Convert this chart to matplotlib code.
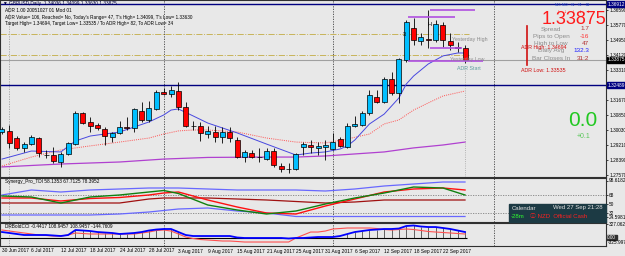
import matplotlib
matplotlib.use("Agg")
import matplotlib.pyplot as plt
import matplotlib.transforms as mtransforms
from matplotlib.patches import Rectangle
from matplotlib import font_manager

plt.rcParams['font.family'] = ['Liberation Sans', 'DejaVu Sans', 'Noto Sans CJK JP']
names = {f.name for f in font_manager.fontManager.ttflist}
NARROW = 'Liberation Sans Narrow' if 'Liberation Sans Narrow' in names else 'Liberation Sans'

# GBPUSD daily candles, 30 Jun 2017 .. 27 Sep 2017 (bar index 0..63)
opens = [1.2992, 1.2997, 1.2959, 1.2905, 1.2927, 1.2959, 1.2866, 1.2866, 1.2828, 1.2872,
         1.2927, 1.3096, 1.3047, 1.3030, 1.3008, 1.2965, 1.2987, 1.3019, 1.3014, 1.3107,
         1.3058, 1.3118, 1.3211, 1.3200, 1.3216, 1.3129, 1.3025, 1.3025, 1.2981, 1.2992,
         1.2965, 1.2992, 1.2948, 1.2855, 1.2877, 1.2855, 1.2844, 1.2888, 1.2806, 1.2790,
         1.2790, 1.2910, 1.2921, 1.2905, 1.2910, 1.2899, 1.2954, 1.2910, 1.3025, 1.3030,
         1.3096, 1.3183, 1.3156, 1.3282, 1.3205, 1.3386, 1.3561, 1.3490, 1.3500, 1.3495,
         1.3577, 1.3490, 1.3457, 1.3451]
highs = [1.3019, 1.3030, 1.2970, 1.2937, 1.2976, 1.2965, 1.2894, 1.2910, 1.2883, 1.2937,
         1.3107, 1.3101, 1.3074, 1.3041, 1.3019, 1.2992, 1.3052, 1.3074, 1.3123, 1.3156,
         1.3162, 1.3222, 1.3233, 1.3244, 1.3265, 1.3156, 1.3052, 1.3047, 1.3025, 1.3025,
         1.3019, 1.3019, 1.2965, 1.2894, 1.2894, 1.2904, 1.2904, 1.2904, 1.2823, 1.2823,
         1.2877, 1.2937, 1.2948, 1.2937, 1.2948, 1.2987, 1.2965, 1.3041, 1.3079, 1.3107,
         1.3222, 1.3222, 1.3293, 1.3320, 1.3397, 1.3604, 1.3615, 1.3533, 1.3659, 1.3604,
         1.3593, 1.3533, 1.3484, 1.3468]
lows = [1.2981, 1.2905, 1.2894, 1.2883, 1.2921, 1.2855, 1.2850, 1.2823, 1.2801, 1.2866,
        1.2921, 1.3036, 1.2991, 1.3003, 1.2921, 1.2937, 1.2981, 1.3003, 1.2992, 1.3047,
        1.3047, 1.3112, 1.3194, 1.3183, 1.3112, 1.3019, 1.3003, 1.2943, 1.2959, 1.2937,
        1.2932, 1.2937, 1.2850, 1.2828, 1.2850, 1.2828, 1.2839, 1.2801, 1.2773, 1.2768,
        1.2784, 1.2866, 1.2877, 1.2866, 1.2839, 1.2894, 1.2910, 1.2905, 1.3019, 1.3025,
        1.3085, 1.3151, 1.3151, 1.3194, 1.3151, 1.3375, 1.3468, 1.3468, 1.3451, 1.3484,
        1.3457, 1.3440, 1.3429, 1.3369]
closes = [1.3008, 1.2932, 1.2905, 1.2927, 1.2965, 1.2877, 1.2869, 1.2833, 1.2872, 1.2932,
          1.3096, 1.3041, 1.3025, 1.3014, 1.2970, 1.2987, 1.3019, 1.3016, 1.3118, 1.3058,
          1.3123, 1.3211, 1.3200, 1.3222, 1.3129, 1.3025, 1.3027, 1.2985, 1.2998, 1.2965,
          1.2992, 1.2959, 1.2855, 1.2883, 1.2855, 1.2857, 1.2888, 1.2812, 1.2790, 1.2792,
          1.2872, 1.2927, 1.2910, 1.2916, 1.2921, 1.2937, 1.2915, 1.3025, 1.3036, 1.3096,
          1.3194, 1.3156, 1.3282, 1.3205, 1.3391, 1.3593, 1.3495, 1.3511, 1.3497, 1.3582,
          1.3495, 1.3468, 1.3454, 1.33875]

date_idx = [0, 4, 8, 12, 16, 20, 24, 28, 32, 36, 40, 44, 48, 52, 56, 60]
date_labels = ["30 Jun 2017", "6 Jul 2017", "12 Jul 2017", "18 Jul 2017", "24 Jul 2017",
               "28 Jul 2017", "3 Aug 2017", "9 Aug 2017", "15 Aug 2017", "21 Aug 2017",
               "25 Aug 2017", "31 Aug 2017", "6 Sep 2017", "12 Sep 2017", "18 Sep 2017",
               "22 Sep 2017"]
month_starts = [1, 22, 45, 67]

# moving averages
ma_fast_idx = [0, 4, 8, 10, 12, 16, 20, 22, 23, 24, 26, 28, 32, 36, 40, 42, 44, 46, 47, 48,
               50, 52, 54, 55, 56, 58, 60, 62, 63]
ma_fast = [1.2844, 1.2888, 1.2883, 1.2943, 1.2970, 1.2992, 1.3047, 1.3085, 1.3112, 1.3118,
           1.3080, 1.3041, 1.2987, 1.2926, 1.2866, 1.2877, 1.2883, 1.2899, 1.2916, 1.2948,
           1.3036, 1.3090, 1.3178, 1.3254, 1.3298, 1.3364, 1.3408, 1.3424, 1.3424]
ma_mid_idx = [0, 4, 8, 12, 16, 20, 22, 24, 26, 28, 32, 36, 40, 44, 47, 50, 52, 54, 56, 58, 60, 63]
ma_mid = [1.2806, 1.2855, 1.2894, 1.2916, 1.2937, 1.2959, 1.2981, 1.2998, 1.3003, 1.3003,
          1.2992, 1.2959, 1.2937, 1.2932, 1.2954, 1.2981, 1.3036, 1.3058, 1.3112, 1.3151,
          1.3189, 1.3216]
ma_slow_idx = [0, 8, 16, 22, 28, 36, 40, 44, 48, 52, 56, 60, 63]
ma_slow = [1.2801, 1.2817, 1.2828, 1.2844, 1.2853, 1.2855, 1.2855, 1.2861, 1.2872, 1.2883,
           1.2905, 1.2921, 1.2937]

price_ticks = [1.36590, 1.35770, 1.34950, 1.34120, 1.33310, 1.31670, 1.30850, 1.30030,
               1.29210, 1.28390, 1.27570]

# Synergy_Pro_TDI
tdi_idx = [0, 4, 8, 12, 16, 20, 22, 24, 28, 32, 36, 40, 44, 48, 52, 56, 60, 63]
tdi_upper = [68, 78, 74, 78, 80, 82, 82, 82, 80, 78, 78, 78, 76, 80, 86, 90, 94, 94]
tdi_lower = [28, 28, 28, 28, 30, 34, 37, 40, 42, 36, 32, 25, 25, 25, 25, 25, 25, 25]
tdi_green = [66, 64, 52, 64, 68, 74, 77, 71, 48, 38, 30, 36, 50, 62, 72, 84, 82, 68]
tdi_red = [62, 62, 56, 61, 63, 68, 72, 74, 58, 44, 32, 30, 46, 60, 74, 80, 82, 78]
tdi_base = [52, 52, 52, 52, 52, 60, 62, 62, 62, 60, 58, 55, 52, 54, 58, 58, 58, 58]

# DRBoldCCI
cci_blue = [125, 103, 80, 57, 57, 57, 57, 46, 34, 57, 171, 160, 148, 125, 114, 103, 80, 91, 103, 125,
            160, 182, 194, 194, 125, 57, 34, 34, 34, 34, 34, 34, 0, -11, -11, -11, -11, -11, -11, -23,
            -11, -11, 0, 11, 11, 11, 34, 80, 125, 148, 171, 182, 194, 194, 205, 262, 274, 251, 239, 239,
            217, 194, 160, 125]
cci_red = [171, 148, 125, 103, 80, 57, 46, 34, 34, 57, 103, 91, 80, 80, 80, 80, 80, 80, 80, 103,
           125, 160, 171, 148, 80, 11, -23, -46, -57, -68, -80, -80, -91, -103, -103, -103, -103, -103, -103, -103,
           -11, 57, 125, 125, 148, 194, 205, 217, 217, 217, 217, 205, 182, 171, 182, 194, 182, 160, 137, 125,
           114, 103, 91, 80]
cci_hist = [0, 0, 0, 0, 0, 0, 0, 0, 0, 0, 171, 160, 148, 125, 114, 103, 80, 91, 103, 125,
            160, 182, 194, 194, 125, 0, 0, 0, 0, 0, 0, 0, 0, 0, 0, 0, 0, 0, 0, 0,
            0, 0, 0, 0, 0, 0, 0, 80, 125, 148, 171, 182, 194, 194, 205, 262, 274, 251, 239, 239,
            217, 194, 160, 125]

BG = '#e8e8e8'
W, H = 625, 256
fig = plt.figure(figsize=(W / 100, H / 100), dpi=100, facecolor=BG)


def panel(top, bottom):
    a = fig.add_axes([0, 1 - bottom / H, 606 / W, (bottom - top) / H], facecolor=BG)
    a.set_xlim(-0.27, 82.18)
    a.yaxis.tick_right()
    a.tick_params(axis='y', labelsize=3.4, length=1.5, pad=0.8, width=0.5)
    a.set_xticks([])
    for s in a.spines.values():
        s.set_color('#303030')
        s.set_linewidth(0.8)
    for m in month_starts:
        a.axvline(m, color='#a0a0a0' if m == 1 else '#404040', ls=(0, (1.5, 1.5)), lw=0.6)
    return a


def ftext(x, y, s, **kw):
    kw.setdefault('fontsize', 4)
    kw.setdefault('va', 'center')
    fig.text(x / W, 1 - y / H, s, **kw)


ax = panel(0, 177)
ax1 = panel(178, 222)
ax2 = panel(223, 246)

# ---- price panel
ax.set_ylim(1.27460, 1.37137)
ax.set_yticks(price_ticks)
ax.set_yticklabels([f"{v:.5f}" for v in price_ticks], family=NARROW)
ax.axhline(1.33875, color='#a0a0a0', lw=0.8)
ax.axhline(1.32489, color='#000080', lw=1.0)
ax.axhline(1.36912, color='#000080', lw=1.0)
ax.hlines([1.3528, 1.3413], -0.3, 63.5, colors='#c8b45a', linestyles='-.', lw=0.7)
ax.vlines(63, 1.2746, 1.3358, colors='#a0a0a0', linestyles=':', lw=0.6)

ax.plot(ma_slow_idx, ma_slow, color='#b040d0', lw=0.9)
ax.plot(ma_mid_idx, ma_mid, color='#ff5050', lw=0.7, ls=(0, (1, 1.2)))
ax.plot(ma_fast_idx, ma_fast, color='#4848e0', lw=0.7)

xs = list(range(len(opens)))
ax.vlines(xs, lows, highs, colors='black', lw=0.6, zorder=3)
for i in xs:
    o, c = opens[i], closes[i]
    col = '#00bfff' if c >= o else '#ff0000'
    h = max(abs(c - o), 0.00006)
    ax.bar(i, h, bottom=min(o, c), width=0.68, color=col, edgecolor='black', lw=0.5, zorder=4)

# objects near the last bars
ax.hlines(1.3659, 58.2, 64.4, colors='#b050e0', lw=1.2, zorder=5)
ax.hlines(1.3621, 55.2, 61.6, colors='#b050e0', lw=1.2, zorder=5)
ax.hlines(1.3451, 58.2, 62.6, colors='#b050e0', lw=1.2, zorder=5)
ax.hlines(1.3380, 55.2, 65.4, colors='#b050e0', lw=1.2, zorder=5)

blend = mtransforms.blended_transform_factory(ax.transAxes, ax.transData)
for val, fc in [(1.36912, '#000080'), (1.33875, '#000000'), (1.32489, '#000080')]:
    ax.text(1.002, val, f"{val:.5f}", transform=blend, fontsize=3.4, family=NARROW, color='white',
            va='center', ha='left', bbox=dict(fc=fc, ec=fc, pad=0.3), zorder=10, clip_on=False)

# ---- TDI panel
ax1.set_ylim(14, 102)
ax1.set_yticks([97, 68, 50, 32, 24.5981])
ax1.set_yticklabels(["98.6182", "68", "50", "32", "24.5981"], family=NARROW)
ax1.axhline(68, color='#808080', ls=(0, (1.5, 1.5)), lw=0.6)
ax1.axhline(32, color='#808080', ls=(0, (1.5, 1.5)), lw=0.6)
ax1.plot(tdi_idx, tdi_upper, color='#6868ff', lw=0.9)
ax1.plot(tdi_idx, tdi_lower, color='#6868ff', lw=0.9)
ax1.plot(tdi_idx, tdi_base, color='#a01010', lw=0.9)
ax1.plot(tdi_idx, tdi_red, color='#ff1010', lw=1.0)
ax1.plot(tdi_idx, tdi_green, color='#108010', lw=1.0)

# ---- CCI panel
ax2.set_ylim(-194, 331)
ax2.set_yticks([300])
ax2.set_yticklabels(["327.0627"], family=NARROW)
ax2.vlines(xs, 0, cci_hist, colors='#606060', lw=0.7)
ax2.hlines(0, -0.3, 63.3, colors='black', lw=0.8)
ax2.plot(xs, cci_red, color='#ff5050', lw=0.8)
ax2.plot(xs, cci_blue, color='#0000ff', lw=1.3)
b2 = mtransforms.blended_transform_factory(ax2.transAxes, ax2.transData)
ax2.text(1.002, 0, "0.00", transform=b2, fontsize=3.4, family=NARROW, color='white', va='center',
         ha='left', bbox=dict(fc='#303030', ec='#303030', pad=0.3), clip_on=False)
ftext(608, 242, "-325.9977", fontsize=3.4, family=NARROW)

# date axis
for i, lab in zip(date_idx, date_labels):
    ftext(2 + 7.35 * i, 251, lab, ha='left', fontsize=3.5, family=NARROW)

# ---- texts
ftext(3, 4, "\u25bc GBPUSD,Daily  1.34036 1.34099 1.33630 1.33875", color='#000040',
      fontsize=3.4, family=[NARROW, 'DejaVu Sans'])
ftext(5, 11, "ADR 1.00 20051027 01 Mod 01", fontsize=3.4, family=NARROW)
ftext(5, 17, "ADR Value= 106, Reached= No, Today's Range= 47, T's High= 1.34099, T's Low= 1.33630",
      fontsize=3.3, family=NARROW)
ftext(5, 23, "Target High= 1.34694, Target Low= 1.33535 / To ADR High= 82, To ADR Low= 34",
      fontsize=3.3, family=NARROW)
ftext(5, 182, "Synergy_Pro_TDI 58.1353 67.7125 78.3952", fontsize=3.4, family=NARROW)
ftext(5, 227, "DRBoldCCI -0.4417 108.9457 108.9457 -144.7609", fontsize=3.4, family=NARROW)

ftext(403, 34, "3", fontsize=4)
ftext(428, 24, "H", fontsize=4)
ftext(452, 40, "Yesterday High", color='#8c8c8c', fontsize=3.8)
ftext(450, 59, "Yesterday Low", color='#8c8c8c', fontsize=3.8)
ftext(457, 68, "ADR Start", color='#5f9ea0', fontsize=3.8)

for x, tf in zip([558, 565, 573, 580, 588], ["M15", "M30", "H1", "H4", "D1"]):
    ftext(x, 4.5, tf, fontsize=2.4, color='#2040c0', ha='center', family=NARROW)
    ftext(x, 11.5, "\u2193", fontsize=3.8, color='#ff0000', ha='center')
ftext(574, 19, "1.33875", fontsize=13, color='#ff1a1a', ha='center')

info_labels = ["Spread", "Pips to Open", "High to Low", "Daily Avg", "Bar Closes In"]
info_values = ["1.7", "-16", "47", "132.3", "31:2"]
info_colors = ['#b03030', '#ff3030', '#b03030', '#2020ff', '#b03030']
for k, (lab, val, col) in enumerate(zip(info_labels, info_values, info_colors)):
    y = 29 + 7.3 * k
    ftext(551, y, lab, fontsize=4.6, color='#8c8c8c', ha='center')
    ftext(589, y, val, fontsize=4.6, color=col, ha='right')

fig.add_artist(plt.Line2D([527 / W, 527 / W], [1 - 26 / H, 1 - 65 / H], color='#d01010', lw=1.2))
ftext(521, 48, "ADR High: 1.34694", color='#d01010', fontsize=3.8)
ftext(521, 70, "ADR Low: 1.33535", color='#d01010', fontsize=3.8)

ftext(583, 121, "0.0", fontsize=15, color='#22c822', ha='center')
ftext(584, 136, "+0.1", fontsize=5, color='#5cc85c', ha='center')

fig.add_artist(Rectangle((509 / W, 1 - 222 / H), 97 / W, 18 / H, transform=fig.transFigure,
                         fc='#1c3a44', ec='#1c3a44'))
ftext(512, 208, "Calendar", color='#e0e0e0', fontsize=4.3)
ftext(553, 208, "Wed 27 Sep 21:28", color='#e0e0e0', fontsize=4.3)
ftext(511, 216.5, "-28m", color='#30ff30', fontsize=4.3)
ftext(530, 216.5, "\u24d8 NZD  Official Cash", color='#ff2020', fontsize=4.3)

fig.savefig("out.png", dpi=100, facecolor=BG)
